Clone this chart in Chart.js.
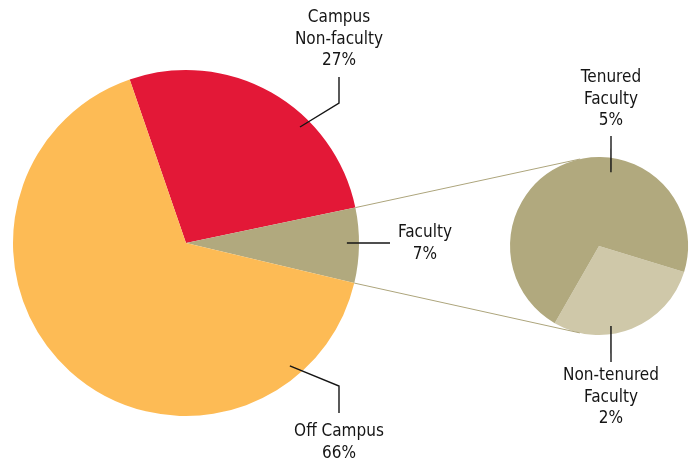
<!DOCTYPE html>
<html>
<head>
<meta charset="utf-8">
<script src="https://cdn.jsdelivr.net/npm/chart.js@4.4.1/dist/chart.umd.min.js"></script>
<style>
  body { margin: 0; background: #fff; }
  #wrap { position: relative; width: 694px; height: 461px; }
  #wrap canvas { position: absolute; left: 0; top: 0; }
</style>
</head>
<body>
<div id="wrap">
  <canvas id="mainPie" width="694" height="461"></canvas>
  <canvas id="facultyPie" width="694" height="461"></canvas>
</div>
<script>
// data
const mainLabels = ['Campus\nNon-faculty', 'Faculty', 'Off Campus'];
const mainValues = [27, 7, 66];
const facultyLabels = ['Non-tenured\nFaculty', 'Tenured\nFaculty'];
const facultyValues = [2, 5];

const mainColors = ['#E31837', '#B1A97E', '#FDBB55'];
const facultyColors = ['#CFC8A9', '#B1A97E'];
const FONT = '17px "Liberation Sans Narrow", "DejaVu Sans Condensed", "Roboto Condensed", sans-serif';

// leader lines: start on the slice (angle from north, fraction of radius), then elbow/end points, then text
const mainCallouts = [
  { angle: 44.5, r: 0.94, pts: [[339, 103], [339, 77]], text: [339, 18] },
  { angle: 90, r: 0.93, pts: [[390, 243]], text: [425, 233] },
  { angle: 139.8, r: 0.93, pts: [[339, 386], [339, 413]], text: [339, 432] }
];
const facultyCallouts = [
  { angle: 171.5, r: 0.91, pts: [[611, 362]], text: [611, 376] },
  { angle: 9.2, r: 0.84, pts: [[611, 136]], text: [611, 78] }
];

function drawCallouts(chart, labels, values, callouts) {
  const ctx = chart.ctx;
  const arc = chart.getDatasetMeta(0).data[0];
  ctx.save();
  ctx.strokeStyle = '#151515';
  ctx.lineWidth = 1.4;
  ctx.fillStyle = '#151515';
  ctx.font = FONT;
  ctx.textAlign = 'center';
  ctx.textBaseline = 'middle';
  callouts.forEach((c, i) => {
    const a = (c.angle - 90) * Math.PI / 180;
    const R = arc.outerRadius * c.r;
    ctx.beginPath();
    ctx.moveTo(arc.x + R * Math.cos(a), arc.y + R * Math.sin(a));
    c.pts.forEach(p => ctx.lineTo(p[0], p[1]));
    ctx.stroke();
    const lines = labels[i].split('\n').concat(values[i] + '%');
    lines.forEach((t, k) => ctx.fillText(t, c.text[0], c.text[1] + k * 21.5));
  });
  ctx.restore();
}

const mainChart = new Chart(document.getElementById('mainPie'), {
  type: 'pie',
  data: {
    labels: mainLabels,
    datasets: [{ data: mainValues, backgroundColor: mainColors, borderWidth: 0, hoverOffset: 0 }]
  },
  options: {
    responsive: false,
    animation: false,
    rotation: -19,
    layout: { padding: { left: 13, right: 335, top: 70, bottom: 45 } },
    plugins: { legend: { display: false }, tooltip: { enabled: false } },
    events: []
  },
  plugins: [{
    id: 'mainCallouts',
    afterDraw(chart) { drawCallouts(chart, mainLabels, mainValues, mainCallouts); }
  }]
});

const facultyChart = new Chart(document.getElementById('facultyPie'), {
  type: 'pie',
  data: {
    labels: facultyLabels,
    datasets: [{ data: facultyValues, backgroundColor: facultyColors, borderWidth: 0, hoverOffset: 0 }]
  },
  options: {
    responsive: false,
    animation: false,
    rotation: 107,
    layout: { padding: { left: 510, right: 6, top: 157, bottom: 126 } },
    plugins: { legend: { display: false }, tooltip: { enabled: false } },
    events: []
  },
  plugins: [{
    id: 'connectors',
    afterDraw(chart) {
      const ctx = chart.ctx;
      const small = chart.getDatasetMeta(0).data[0];
      const fac = mainChart.getDatasetMeta(0).data[1];
      const ends = [[fac.startAngle, 1], [fac.endAngle, -1]];
      ctx.save();
      ctx.strokeStyle = '#ADA57C';
      ctx.lineWidth = 1;
      ends.forEach(([ang, dir]) => {
        const px = fac.x + fac.outerRadius * Math.cos(ang);
        const py = fac.y + fac.outerRadius * Math.sin(ang);
        const vx = px - small.x, vy = py - small.y;
        const d = Math.hypot(vx, vy);
        const t = Math.atan2(vy, vx) + dir * Math.acos(small.outerRadius / d);
        ctx.beginPath();
        ctx.moveTo(px, py);
        ctx.lineTo(small.x + small.outerRadius * Math.cos(t), small.y + small.outerRadius * Math.sin(t));
        ctx.stroke();
      });
      ctx.restore();
      drawCallouts(chart, facultyLabels, facultyValues, facultyCallouts);
    }
  }]
});
</script>
</body>
</html>
